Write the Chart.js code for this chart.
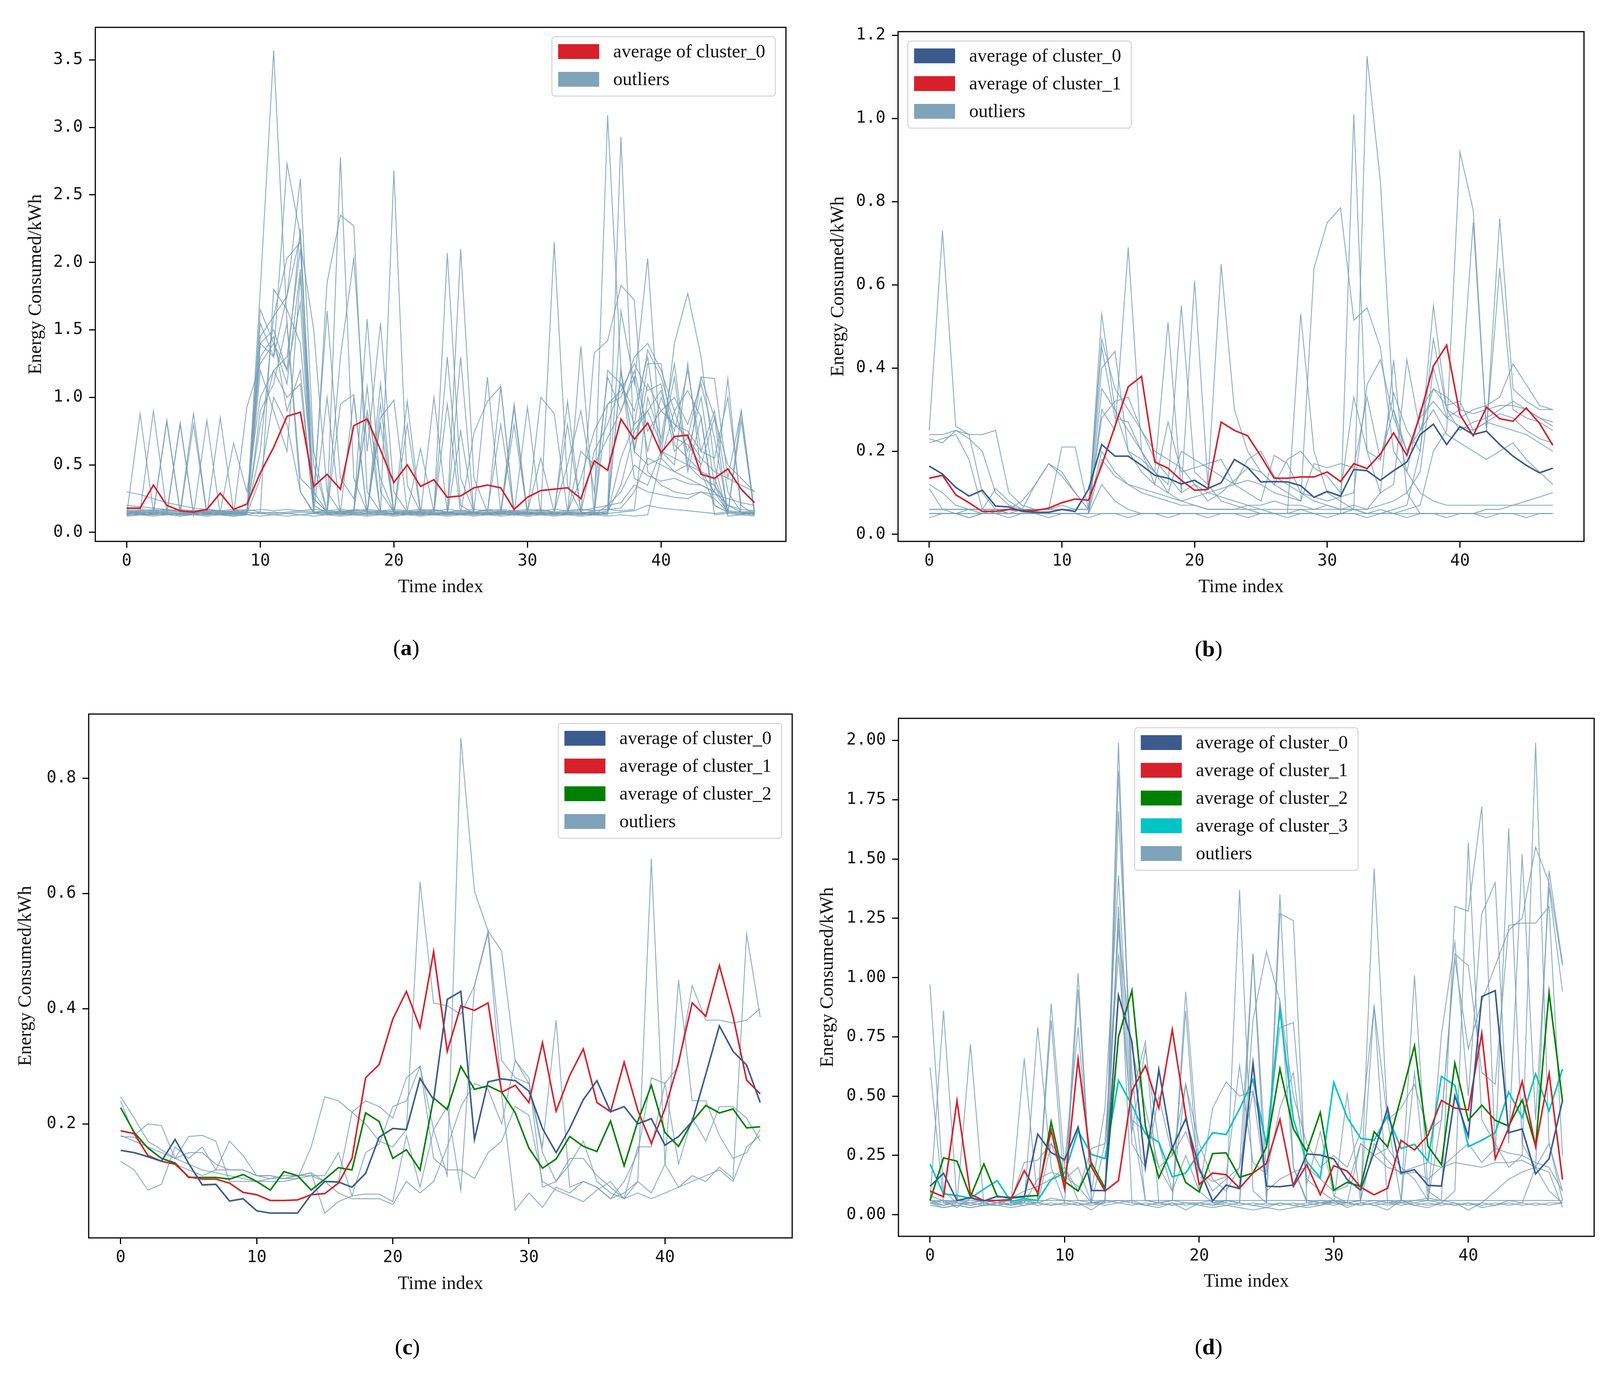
<!DOCTYPE html>
<html>
<head>
<meta charset="utf-8">
<script src="https://cdn.jsdelivr.net/npm/chart.js@4.4.1/dist/chart.umd.min.js"></script>
<style>
  html, body { margin: 0; padding: 0; background: #fff; }
  body { width: 4119px; height: 3520px; position: relative; overflow: hidden; }
  canvas { position: absolute; }
</style>
</head>
<body>
<canvas id="panelA" width="2060" height="1760" style="left:0px;top:0px;width:2060px;height:1760px"></canvas>
<canvas id="panelB" width="2059" height="1760" style="left:2060px;top:0px;width:2059px;height:1760px"></canvas>
<canvas id="panelC" width="2060" height="1760" style="left:0px;top:1760px;width:2060px;height:1760px"></canvas>
<canvas id="panelD" width="2059" height="1760" style="left:2060px;top:1760px;width:2059px;height:1760px"></canvas>
<script>
// time index 0..47 (48 half-hour slots)
const timeIndex = [...Array(48).keys()];
const xTicks = [0, 10, 20, 30, 40];

const clusterLabels = ["average of cluster_0", "average of cluster_1", "average of cluster_2", "average of cluster_3"];
const outlierLabel = "outliers";

// ---- panel (a) ----
const aTicks = [0, 0.5, 1.0, 1.5, 2.0, 2.5, 3.0, 3.5];
const aCluster0 = [
  0.18,0.18,0.35,0.20,0.16,0.15,0.17,0.29,0.17,0.21,0.44,0.63,
  0.86,0.89,0.34,0.43,0.32,0.79,0.84,0.61,0.37,0.50,0.34,0.39,
  0.26,0.27,0.33,0.35,0.33,0.17,0.26,0.31,0.32,0.33,0.25,0.53,
  0.46,0.84,0.69,0.81,0.59,0.71,0.72,0.43,0.40,0.47,0.32,0.22];
const aOutliers = [
  [0.15,0.14,0.15,0.14,0.13,0.14,0.15,0.14,0.13,0.15,1.80,3.57,
   1.55,0.30,0.15,0.14,0.16,0.15,0.14,0.15,0.14,0.15,0.14,0.13,
   0.15,0.14,0.15,0.14,0.15,0.14,0.13,0.15,0.14,0.15,0.14,0.16,
   3.09,1.20,0.40,0.35,0.60,0.55,0.50,0.45,0.20,0.15,0.14,0.15],
  [0.13,0.88,0.15,0.14,0.13,0.15,0.14,0.13,0.15,0.14,1.55,1.30,
   2.73,2.20,0.25,0.15,0.14,0.16,1.58,0.30,0.15,0.14,0.16,0.15,
   2.07,0.40,0.15,0.14,0.16,0.15,0.14,0.15,2.15,0.35,0.15,0.14,
   0.16,2.93,0.60,0.50,0.55,0.45,0.50,0.40,0.35,0.14,0.13,0.15],
  [0.30,0.28,0.25,0.22,0.20,0.18,0.17,0.16,0.15,0.15,0.60,1.60,
   1.75,2.62,0.60,0.15,2.78,0.40,0.15,0.14,2.68,0.35,0.15,0.14,
   0.15,2.10,0.40,0.15,0.14,0.15,0.14,0.15,0.14,0.15,0.14,1.33,
   1.42,1.83,1.72,0.45,0.35,0.30,0.28,0.30,0.25,0.15,0.14,0.15],
  [0.14,0.15,0.90,0.15,0.80,0.14,0.13,0.85,0.15,0.14,1.40,1.50,
   1.20,2.25,0.20,1.85,2.35,2.27,0.30,0.15,0.14,0.97,0.15,0.14,
   0.15,0.13,0.15,0.14,1.08,0.15,0.14,0.15,0.14,0.15,0.14,0.15,
   0.14,1.64,1.10,2.03,0.60,0.50,1.25,0.45,0.40,0.16,0.15,0.14],
  [0.16,0.15,0.14,0.83,0.15,0.88,0.14,0.15,0.13,0.93,1.25,1.40,
   1.10,1.95,0.25,0.15,1.30,2.03,0.60,1.55,0.30,0.15,0.14,1.00,
   0.15,0.14,0.16,1.15,0.15,0.95,0.14,0.15,0.14,0.97,0.15,0.14,
   1.20,1.10,0.80,1.35,1.15,0.80,0.70,1.15,1.14,0.40,0.90,0.15],
  [0.12,0.13,0.14,0.13,0.81,0.13,0.83,0.13,0.12,0.13,0.15,1.80,
   1.65,1.40,0.30,1.64,0.40,0.25,0.85,0.15,0.13,0.14,0.13,0.14,
   0.13,0.14,0.74,0.97,1.08,0.14,0.93,0.13,0.14,0.13,1.38,0.13,
   0.14,1.20,0.60,1.25,1.25,0.65,0.55,0.45,0.30,1.14,0.14,0.13],
  [0.18,0.17,0.16,0.15,0.14,0.15,0.14,0.15,0.66,0.30,1.00,1.20,
   1.00,1.10,0.15,0.14,0.95,1.02,0.14,0.85,0.98,0.16,0.62,0.15,
   1.30,0.20,0.14,0.15,0.80,0.14,0.15,1.00,0.88,0.15,0.40,0.75,
   0.95,1.05,1.25,1.05,1.10,0.60,0.70,0.55,0.45,0.40,0.35,0.30],
  [0.14,0.13,0.13,0.14,0.13,0.13,0.14,0.13,0.14,0.13,0.90,1.10,
   1.55,0.40,0.30,0.15,0.14,0.13,0.14,1.10,0.15,0.14,0.13,0.14,
   0.13,0.75,0.14,0.13,0.14,0.13,0.15,0.14,0.13,0.14,0.60,0.50,
   0.70,0.90,1.20,0.75,0.90,0.80,0.75,0.60,0.55,1.00,0.20,0.13],
  [0.16,0.15,0.16,0.17,0.15,0.16,0.17,0.15,0.16,0.17,0.15,0.14,
   0.15,0.16,0.15,0.16,0.15,0.17,0.16,0.15,0.16,0.15,0.16,0.17,
   0.15,0.16,0.15,0.17,0.16,0.15,0.16,0.17,0.15,0.16,0.17,0.16,
   0.17,0.18,0.30,0.55,0.50,0.45,0.40,0.35,0.30,0.20,0.17,0.16],
  [0.20,0.19,0.18,0.17,0.16,0.15,0.16,0.15,0.16,0.15,0.14,0.13,
   0.14,0.13,0.14,0.13,0.14,0.13,0.14,0.13,0.14,0.13,0.14,0.13,
   0.14,0.13,0.14,0.13,0.14,0.13,0.14,0.15,0.14,0.15,0.16,0.18,
   0.20,0.22,0.35,0.30,0.28,0.26,0.25,0.30,0.28,0.25,0.22,0.20],
  [0.13,0.14,0.13,0.14,0.13,0.80,0.13,0.14,0.13,0.14,1.20,0.90,
   0.60,1.90,0.15,0.14,0.15,1.00,0.14,0.95,0.13,0.14,0.13,0.14,
   0.95,0.14,0.13,0.14,0.13,0.92,0.13,0.14,0.13,0.14,0.13,0.14,
   0.95,1.00,1.30,1.40,1.20,0.90,1.05,0.85,0.13,0.14,0.83,0.13],
  [0.15,0.14,0.15,0.82,0.15,0.14,0.15,0.14,0.15,0.14,1.45,1.60,
   2.03,2.15,1.50,0.30,0.15,0.14,0.16,0.80,0.15,0.14,0.15,0.14,
   0.15,0.14,0.15,0.14,0.15,0.14,0.15,0.55,0.15,0.80,0.15,0.14,
   0.15,0.35,0.75,0.90,0.65,1.15,0.45,0.85,0.20,0.15,0.14,0.15],
  [0.14,0.15,0.14,0.15,0.14,0.15,0.14,0.15,0.14,0.15,0.14,0.15,
   0.14,0.15,0.14,0.15,0.14,0.15,0.14,0.15,0.14,0.15,0.14,0.15,
   0.14,0.15,0.14,0.15,0.14,0.15,0.14,0.15,0.14,0.15,0.14,0.15,
   0.14,0.15,0.16,0.20,0.18,0.17,0.16,0.15,0.14,0.15,0.14,0.15],
  [0.12,0.13,0.12,0.13,0.12,0.13,0.12,0.13,0.12,0.13,0.12,0.13,
   0.12,0.13,0.12,0.13,0.12,0.13,0.12,0.13,0.12,0.13,0.12,0.13,
   0.12,0.13,0.12,0.13,0.12,0.13,0.12,0.13,0.12,0.13,0.12,0.13,
   0.12,0.13,0.12,0.13,0.55,1.40,1.77,1.30,0.50,0.12,0.13,0.12],
  [0.17,0.16,0.17,0.16,0.17,0.16,0.17,0.16,0.17,0.16,0.17,0.16,
   0.17,0.16,0.17,0.16,0.17,0.16,0.17,0.16,0.17,0.16,0.17,0.16,
   0.17,0.16,0.17,0.16,0.17,0.16,0.17,0.16,0.17,0.16,0.17,0.16,
   0.17,0.16,0.17,1.00,0.70,1.25,0.50,1.15,0.85,0.50,0.40,0.30],
  [0.13,0.14,0.13,0.14,0.13,0.14,0.13,0.14,0.13,0.14,1.65,1.40,
   1.20,1.70,0.14,1.00,0.13,0.14,1.08,0.14,0.13,0.80,0.14,0.13,
   0.14,1.30,0.14,0.13,0.14,0.80,0.14,0.13,0.14,0.13,0.14,0.13,
   0.14,0.55,0.80,0.90,1.05,0.70,0.65,0.50,0.85,0.14,0.90,0.14],
  [0.14,0.13,0.14,0.13,0.14,0.13,0.14,0.13,0.14,0.13,1.40,1.30,
   1.75,2.20,0.20,0.14,0.13,0.14,0.13,0.14,0.13,0.14,0.13,0.14,
   0.13,0.14,0.13,0.14,0.13,0.14,0.13,0.14,0.13,0.14,0.13,0.14,
   0.13,1.20,0.60,1.10,0.90,1.00,0.80,1.10,0.70,0.15,0.14,0.13],
  [0.15,0.16,0.15,0.16,0.15,0.16,0.15,0.16,0.15,0.16,1.30,1.45,
   0.90,1.20,0.15,0.16,0.15,0.16,0.15,0.16,0.15,0.16,0.15,0.16,
   0.15,0.16,0.15,0.16,0.15,0.16,0.15,0.16,0.15,0.50,0.90,0.30,
   1.15,0.90,1.15,0.60,1.00,0.75,1.20,0.60,0.90,0.30,0.15,0.16],
  [0.13,0.14,0.13,0.14,0.13,0.14,0.13,0.14,0.13,0.14,0.40,1.00,
   0.80,0.30,0.14,0.13,0.14,0.13,0.14,0.13,0.14,0.13,0.14,0.13,
   0.14,0.13,0.14,0.13,0.14,0.13,0.14,0.13,0.14,0.13,0.14,0.13,
   0.20,0.30,0.50,0.42,0.38,0.40,0.36,0.35,0.30,0.15,0.14,0.13],
  [0.14,0.15,0.14,0.15,0.14,0.15,0.14,0.15,0.14,0.15,0.80,1.20,
   1.30,2.10,0.50,0.15,0.14,0.15,0.90,0.40,0.15,0.14,0.15,0.14,
   0.15,0.14,0.15,0.14,0.15,0.14,0.15,0.14,0.15,0.14,0.15,0.60,
   0.80,1.10,0.90,1.30,0.55,0.90,0.60,1.00,0.35,0.20,0.15,0.14]
];

// ---- panel (b) ----
const bTicks = [0, 0.2, 0.4, 0.6, 0.8, 1.0, 1.2];
const bCluster0 = [
  0.164,0.145,0.113,0.092,0.106,0.068,0.066,0.055,0.053,0.053,0.060,0.055,
  0.108,0.216,0.188,0.188,0.166,0.142,0.135,0.121,0.130,0.110,0.124,0.180,
  0.161,0.126,0.127,0.126,0.117,0.089,0.103,0.092,0.156,0.153,0.130,0.153,
  0.174,0.240,0.265,0.216,0.259,0.240,0.248,0.216,0.188,0.166,0.148,0.159];
const bCluster1 = [
  0.135,0.142,0.095,0.076,0.055,0.055,0.060,0.057,0.057,0.063,0.076,0.085,
  0.082,0.166,0.260,0.355,0.380,0.174,0.159,0.130,0.106,0.108,0.270,0.250,
  0.237,0.188,0.135,0.135,0.138,0.138,0.150,0.127,0.170,0.158,0.193,0.244,
  0.190,0.288,0.405,0.455,0.288,0.237,0.306,0.278,0.272,0.304,0.267,0.214];
const bOutliers = [
  [0.25,0.73,0.26,0.24,0.10,0.06,0.05,0.05,0.05,0.05,0.05,0.05,
   0.05,0.53,0.30,0.25,0.20,0.15,0.10,0.08,0.07,0.06,0.06,0.06,
   0.07,0.06,0.05,0.05,0.06,0.05,0.05,0.05,0.06,0.05,0.05,0.06,
   0.07,0.20,0.55,0.30,0.25,0.27,0.28,0.30,0.32,0.30,0.28,0.27],
  [0.24,0.24,0.25,0.24,0.24,0.25,0.10,0.07,0.06,0.06,0.07,0.06,
   0.06,0.47,0.35,0.30,0.25,0.20,0.18,0.16,0.12,0.10,0.09,0.08,
   0.07,0.07,0.08,0.07,0.07,0.06,0.07,0.06,0.07,0.06,0.07,0.08,
   0.10,0.15,0.40,0.28,0.30,0.29,0.30,0.31,0.31,0.30,0.28,0.26],
  [0.22,0.23,0.24,0.18,0.06,0.05,0.05,0.06,0.05,0.05,0.05,0.05,
   0.05,0.30,0.25,0.69,0.20,0.15,0.51,0.10,0.61,0.12,0.08,0.07,
   0.06,0.05,0.05,0.05,0.53,0.20,0.10,0.08,0.06,0.05,0.06,0.05,
   0.06,0.07,0.20,0.25,0.92,0.78,0.25,0.64,0.30,0.28,0.27,0.25],
  [0.12,0.10,0.07,0.06,0.06,0.11,0.08,0.06,0.12,0.17,0.14,0.10,
   0.06,0.40,0.44,0.20,0.18,0.15,0.12,0.55,0.15,0.12,0.65,0.30,
   0.20,0.15,0.12,0.10,0.08,0.64,0.75,0.785,0.515,0.545,0.45,0.20,
   0.15,0.30,0.35,0.33,0.30,0.75,0.25,0.76,0.35,0.32,0.30,0.30],
  [0.05,0.05,0.05,0.05,0.05,0.05,0.05,0.05,0.05,0.05,0.05,0.05,
   0.05,0.05,0.05,0.05,0.05,0.05,0.05,0.05,0.05,0.05,0.05,0.05,
   0.05,0.05,0.05,0.05,0.05,0.05,0.05,0.05,1.01,0.20,0.10,0.42,
   0.10,0.05,0.05,0.05,0.05,0.05,0.05,0.05,0.05,0.05,0.05,0.05],
  [0.06,0.06,0.06,0.06,0.06,0.06,0.06,0.06,0.06,0.06,0.21,0.21,
   0.06,0.20,0.15,0.12,0.10,0.09,0.08,0.07,0.07,0.06,0.06,0.06,
   0.06,0.06,0.06,0.06,0.06,0.06,0.06,0.06,0.06,1.15,0.85,0.30,
   0.15,0.10,0.08,0.07,0.07,0.07,0.07,0.07,0.07,0.07,0.07,0.07],
  [0.04,0.05,0.05,0.04,0.05,0.05,0.04,0.05,0.05,0.04,0.05,0.05,
   0.04,0.05,0.05,0.04,0.05,0.05,0.04,0.05,0.05,0.04,0.05,0.05,
   0.04,0.05,0.05,0.04,0.05,0.05,0.04,0.05,0.05,0.04,0.05,0.05,
   0.04,0.05,0.05,0.04,0.05,0.05,0.04,0.05,0.05,0.04,0.05,0.05],
  [0.11,0.06,0.05,0.06,0.05,0.05,0.06,0.08,0.12,0.17,0.15,0.10,
   0.06,0.28,0.32,0.33,0.25,0.18,0.14,0.10,0.12,0.08,0.10,0.13,
   0.16,0.15,0.12,0.18,0.20,0.16,0.14,0.10,0.33,0.20,0.18,0.34,
   0.25,0.20,0.47,0.30,0.28,0.30,0.31,0.33,0.41,0.36,0.31,0.30],
  [0.06,0.06,0.06,0.06,0.06,0.06,0.06,0.06,0.06,0.06,0.06,0.06,
   0.06,0.45,0.28,0.27,0.20,0.12,0.27,0.15,0.16,0.17,0.18,0.12,
   0.10,0.08,0.19,0.17,0.10,0.08,0.07,0.06,0.06,0.06,0.10,0.12,
   0.42,0.25,0.35,0.31,0.32,0.25,0.27,0.29,0.28,0.25,0.23,0.22],
  [0.05,0.05,0.05,0.05,0.05,0.05,0.05,0.05,0.05,0.05,0.05,0.05,
   0.05,0.12,0.08,0.06,0.05,0.05,0.05,0.05,0.05,0.05,0.05,0.05,
   0.05,0.05,0.05,0.05,0.05,0.05,0.05,0.05,0.05,0.05,0.05,0.05,
   0.05,0.05,0.05,0.05,0.05,0.05,0.06,0.06,0.07,0.08,0.09,0.10],
  [0.23,0.22,0.25,0.23,0.20,0.10,0.07,0.06,0.05,0.05,0.05,0.05,
   0.05,0.35,0.30,0.20,0.15,0.12,0.10,0.20,0.18,0.16,0.14,0.12,
   0.18,0.20,0.14,0.12,0.10,0.09,0.08,0.09,0.10,0.36,0.42,0.28,
   0.20,0.25,0.30,0.24,0.22,0.20,0.18,0.20,0.22,0.18,0.15,0.12],
  [0.05,0.05,0.05,0.04,0.05,0.06,0.05,0.05,0.05,0.05,0.05,0.05,
   0.05,0.18,0.14,0.12,0.11,0.10,0.09,0.08,0.09,0.10,0.11,0.12,
   0.13,0.12,0.10,0.09,0.08,0.17,0.16,0.17,0.16,0.33,0.18,0.30,
   0.20,0.28,0.32,0.28,0.26,0.25,0.27,0.26,0.25,0.24,0.22,0.20]
];

// ---- panel (c) ----
const cTicks = [0.2, 0.4, 0.6, 0.8];
const cCluster0 = [
  0.154,0.150,0.143,0.135,0.173,0.131,0.094,0.095,0.066,0.070,0.049,0.045,
  0.045,0.045,0.077,0.100,0.099,0.090,0.114,0.177,0.192,0.190,0.279,0.242,
  0.416,0.430,0.173,0.273,0.278,0.275,0.257,0.192,0.150,0.192,0.242,0.275,
  0.221,0.230,0.200,0.209,0.163,0.178,0.204,0.286,0.370,0.326,0.302,0.237];
const cCluster1 = [
  0.188,0.183,0.145,0.135,0.130,0.108,0.104,0.104,0.097,0.081,0.077,0.067,
  0.067,0.068,0.077,0.079,0.097,0.140,0.280,0.303,0.382,0.430,0.367,0.499,
  0.326,0.405,0.397,0.410,0.255,0.267,0.237,0.341,0.222,0.284,0.330,0.237,
  0.221,0.307,0.224,0.166,0.226,0.307,0.410,0.387,0.475,0.387,0.276,0.252];
const cCluster2 = [
  0.228,0.185,0.158,0.140,0.132,0.107,0.107,0.107,0.104,0.112,0.100,0.085,
  0.117,0.110,0.085,0.104,0.124,0.120,0.219,0.204,0.140,0.155,0.120,0.245,
  0.225,0.300,0.260,0.266,0.255,0.219,0.158,0.123,0.139,0.178,0.161,0.152,
  0.205,0.127,0.204,0.267,0.185,0.161,0.204,0.232,0.219,0.226,0.193,0.195];
const cOutliers = [
  [0.247,0.21,0.17,0.155,0.14,0.13,0.12,0.115,0.11,0.105,0.10,0.10,
   0.10,0.105,0.16,0.247,0.24,0.22,0.20,0.17,0.16,0.19,0.62,0.41,
   0.405,0.39,0.44,0.535,0.31,0.28,0.27,0.16,0.38,0.09,0.10,0.09,
   0.07,0.10,0.15,0.28,0.27,0.30,0.44,0.38,0.38,0.375,0.38,0.40],
  [0.178,0.177,0.16,0.15,0.14,0.178,0.18,0.17,0.10,0.10,0.10,0.105,
   0.11,0.11,0.115,0.045,0.065,0.075,0.078,0.078,0.065,0.18,0.09,0.19,
   0.11,0.87,0.604,0.535,0.50,0.31,0.27,0.15,0.10,0.13,0.17,0.10,
   0.08,0.07,0.10,0.66,0.13,0.09,0.11,0.10,0.125,0.105,0.53,0.385],
  [0.135,0.12,0.085,0.095,0.16,0.14,0.16,0.12,0.17,0.145,0.11,0.105,
   0.105,0.105,0.11,0.11,0.15,0.075,0.15,0.165,0.23,0.24,0.30,0.19,
   0.23,0.085,0.44,0.53,0.25,0.05,0.08,0.055,0.09,0.08,0.10,0.09,
   0.07,0.08,0.10,0.08,0.13,0.45,0.24,0.24,0.18,0.14,0.15,0.19],
  [0.24,0.18,0.20,0.197,0.14,0.15,0.15,0.13,0.12,0.12,0.11,0.11,
   0.105,0.11,0.115,0.10,0.10,0.22,0.24,0.23,0.21,0.28,0.30,0.14,
   0.12,0.12,0.105,0.15,0.17,0.23,0.215,0.10,0.085,0.075,0.065,0.085,
   0.10,0.07,0.16,0.16,0.27,0.13,0.21,0.17,0.23,0.23,0.21,0.17],
  [0.18,0.17,0.16,0.14,0.13,0.12,0.11,0.12,0.12,0.12,0.11,0.11,
   0.105,0.11,0.11,0.10,0.08,0.07,0.07,0.07,0.06,0.10,0.08,0.10,
   0.16,0.23,0.27,0.26,0.20,0.31,0.28,0.09,0.10,0.14,0.14,0.11,
   0.09,0.07,0.08,0.07,0.08,0.09,0.10,0.11,0.12,0.10,0.16,0.18]
];

// ---- panel (d) ----
const dTicks = [0, 0.25, 0.5, 0.75, 1.0, 1.25, 1.5, 1.75, 2.0];
const dCluster0 = [
  0.120,0.175,0.060,0.072,0.058,0.078,0.070,0.075,0.340,0.262,0.232,0.370,
  0.102,0.102,0.925,0.730,0.200,0.612,0.280,0.405,0.195,0.058,0.125,0.110,
  0.638,0.120,0.118,0.125,0.256,0.252,0.235,0.148,0.104,0.265,0.450,0.176,
  0.190,0.124,0.121,0.502,0.330,0.920,0.945,0.346,0.362,0.172,0.236,0.482];
const dCluster1 = [
  0.100,0.076,0.480,0.086,0.060,0.060,0.064,0.186,0.092,0.356,0.108,0.656,
  0.200,0.100,0.144,0.522,0.628,0.450,0.780,0.418,0.128,0.176,0.169,0.112,
  0.176,0.216,0.402,0.120,0.211,0.084,0.207,0.184,0.116,0.084,0.112,0.314,
  0.273,0.334,0.482,0.450,0.442,0.765,0.236,0.366,0.562,0.287,0.596,0.148];
const dCluster2 = [
  0.060,0.240,0.226,0.076,0.214,0.076,0.073,0.078,0.081,0.392,0.140,0.100,
  0.218,0.112,0.750,0.945,0.374,0.156,0.282,0.136,0.096,0.258,0.261,0.158,
  0.176,0.286,0.615,0.362,0.266,0.432,0.104,0.137,0.120,0.350,0.286,0.495,
  0.713,0.290,0.211,0.639,0.398,0.462,0.398,0.374,0.484,0.290,0.937,0.478];
const dCluster3 = [
  0.214,0.088,0.081,0.070,0.108,0.144,0.056,0.068,0.060,0.148,0.176,0.354,
  0.254,0.237,0.566,0.462,0.342,0.306,0.160,0.176,0.262,0.346,0.338,0.446,
  0.570,0.296,0.863,0.402,0.223,0.156,0.558,0.410,0.322,0.314,0.418,0.279,
  0.297,0.227,0.583,0.546,0.287,0.314,0.346,0.518,0.410,0.594,0.438,0.614];
const dOutliers = [
  [0.97,0.10,0.05,0.04,0.05,0.04,0.05,0.06,0.05,0.89,0.20,0.06,
   0.05,0.05,1.99,0.40,0.06,0.05,0.06,0.05,0.05,0.06,0.05,1.37,
   0.10,0.05,1.35,0.20,0.05,0.06,0.05,0.05,0.06,1.46,0.40,0.06,
   0.05,0.06,0.05,0.10,1.57,0.40,0.30,0.20,0.25,1.99,0.30,0.06],
  [0.62,0.05,0.04,0.05,0.04,0.05,0.04,0.66,0.05,0.82,0.10,1.02,
   0.05,0.06,1.87,0.50,0.73,0.05,0.06,0.94,0.20,0.05,0.06,0.05,
   1.10,0.05,1.27,1.24,0.06,0.05,0.06,0.05,0.06,0.88,0.05,0.06,
   1.01,0.10,0.06,1.30,1.28,1.72,0.25,1.63,0.30,0.20,1.45,1.06],
  [0.06,0.86,0.05,0.72,0.04,0.05,0.04,0.05,0.79,0.20,0.05,0.95,
   0.05,0.06,1.70,0.60,0.06,0.05,0.06,0.86,0.10,0.05,0.06,0.05,
   0.82,1.11,0.90,0.20,0.06,0.05,0.05,0.51,0.05,0.06,0.05,0.05,
   0.60,0.06,0.76,1.15,0.50,1.27,1.40,0.30,1.52,0.40,1.38,0.94],
  [0.05,0.04,0.06,0.05,0.06,0.05,0.06,0.22,0.23,0.30,0.22,0.79,
   0.10,0.45,1.43,0.40,0.35,0.20,0.10,0.25,0.10,0.45,0.56,0.50,
   0.52,0.30,0.79,0.81,0.15,0.10,0.06,0.05,0.30,0.25,0.28,0.20,
   0.15,0.06,0.40,1.10,1.05,0.60,0.55,1.22,1.23,1.23,1.30,0.25],
  [0.05,0.03,0.04,0.03,0.04,0.04,0.03,0.04,0.05,0.04,0.05,0.04,
   0.05,0.06,1.25,0.05,0.04,0.05,0.04,0.05,0.04,0.05,0.04,0.05,
   0.04,0.05,0.04,0.05,0.04,0.05,0.04,0.05,0.04,0.05,0.04,0.05,
   0.04,0.05,0.04,0.05,0.04,0.05,0.04,0.05,0.04,0.05,0.04,0.05],
  [0.06,0.06,0.06,0.06,0.06,0.06,0.06,0.06,0.06,0.06,0.06,0.06,
   0.06,0.06,0.06,0.06,0.06,0.06,0.06,0.06,0.06,0.06,0.06,0.06,
   0.06,0.06,0.06,0.06,0.06,0.06,0.06,0.06,0.06,0.06,0.06,0.06,
   0.06,0.06,0.06,0.06,0.06,0.06,0.06,0.06,0.06,0.06,0.06,0.06],
  [0.08,0.06,0.05,0.05,0.06,0.05,0.07,0.10,0.12,0.15,0.20,0.10,
   0.28,0.30,1.20,0.70,0.45,0.20,0.25,0.55,0.30,0.15,0.10,0.20,
   0.52,0.10,0.15,0.18,0.20,0.15,0.10,0.12,0.30,0.25,0.20,0.18,
   0.20,0.22,0.20,0.25,0.30,0.22,0.28,0.26,0.25,0.22,0.20,0.10],
  [0.04,0.03,0.04,0.03,0.04,0.05,0.04,0.05,0.04,0.05,0.04,0.05,
   0.04,0.05,0.06,0.05,0.04,0.05,0.04,0.05,0.04,0.03,0.04,0.03,
   0.02,0.03,0.02,0.03,0.04,0.05,0.06,0.05,0.04,0.05,0.06,0.05,
   0.06,0.07,0.06,0.05,0.02,0.05,0.10,0.15,0.18,0.20,0.10,0.05],
  [0.06,0.05,0.06,0.05,0.06,0.05,0.06,0.05,0.15,0.18,0.16,0.12,
   0.05,0.05,1.30,0.30,0.20,0.50,0.25,0.35,0.18,0.14,0.16,0.63,
   0.22,0.17,0.45,0.60,0.13,0.35,0.08,0.05,0.06,0.30,0.23,0.17,
   0.18,0.15,0.20,0.22,0.21,0.20,0.22,0.22,0.23,0.20,0.18,0.03],
  [0.05,0.04,0.05,0.04,0.05,0.04,0.05,0.05,0.05,0.30,0.15,0.20,
   0.05,0.30,1.10,0.35,0.70,0.30,0.10,0.55,0.20,0.10,0.15,0.20,
   1.10,0.18,0.90,0.50,0.30,0.20,0.25,0.20,0.35,0.88,0.40,0.45,
   0.55,0.35,0.40,1.08,0.70,0.90,1.05,1.20,1.25,1.55,1.40,1.05],
  [0.06,0.04,0.05,0.04,0.05,0.04,0.05,0.04,0.05,0.04,0.05,0.04,
   0.05,0.04,0.05,0.04,0.05,0.04,0.05,0.04,0.05,0.04,0.05,0.04,
   0.05,0.04,0.05,0.04,0.05,0.04,0.05,0.04,0.05,0.04,0.05,0.04,
   0.05,0.04,0.05,0.04,0.05,0.04,0.05,0.04,0.05,0.04,0.05,0.05],
  [0.05,0.06,0.03,0.07,0.05,0.06,0.04,0.06,0.05,0.07,0.06,0.05,
   0.02,0.06,0.05,0.06,0.04,0.03,0.05,0.02,0.05,0.04,0.06,0.05,
   0.04,0.03,0.05,0.04,0.03,0.04,0.06,0.03,0.05,0.04,0.02,0.06,
   0.04,0.03,0.05,0.04,0.05,0.03,0.04,0.06,0.05,0.20,0.30,0.10]
];

// colours
const BLUE = "#3b5b8e";
const RED = "#d7202a";
const GREEN = "#008000";
const CYAN = "#00c4c4";
const OUTLIER_PATCH = "#7fa3b8";
const OUTLIER_LINE = "rgba(118,158,181,0.82)";

const serif = '"Liberation Serif", "Times New Roman", serif';
const mono = '"DejaVu Sans Mono", monospace';

// frame, legend box and panel caption drawn on top of the plot
const panelDecor = {
  id: "panelDecor",
  afterDraw(chart, args, opts) {
    const { ctx, chartArea: ca } = chart;
    ctx.save();
    ctx.strokeStyle = "#000";
    ctx.lineWidth = 3;
    ctx.strokeRect(ca.left, ca.top, ca.right - ca.left, ca.bottom - ca.top);

    ctx.font = "48px " + serif;
    const textW = Math.max(...opts.items.map(it => ctx.measureText(it.text).width));
    const boxW = 157 + textW + 26;
    const boxH = opts.items.length * 71 + 10;
    let bx;
    if (opts.loc === "right") bx = ca.right - 27 - boxW;
    else if (opts.loc === "left") bx = ca.left + 25;
    else bx = (ca.left + ca.right) / 2 - boxW / 2;
    const by = ca.top + 24;
    ctx.beginPath();
    ctx.roundRect(bx, by, boxW, boxH, 8);
    ctx.fillStyle = "rgba(255,255,255,0.85)";
    ctx.fill();
    ctx.strokeStyle = "#d2d2d2";
    ctx.lineWidth = 2.5;
    ctx.stroke();
    ctx.textAlign = "left";
    ctx.textBaseline = "middle";
    opts.items.forEach((it, i) => {
      const cy = by + 38 + i * 71;
      ctx.fillStyle = it.color;
      ctx.fillRect(bx + 16, cy - 19, 105, 38);
      ctx.fillStyle = "#111";
      ctx.fillText(it.text, bx + 157, cy + 2);
    });

    // caption like "(a)" with bold letter
    const parts = [["(", "58px " + serif], [opts.caption, "bold 58px " + serif], [")", "58px " + serif]];
    let total = 0;
    parts.forEach(p => { ctx.font = p[1]; total += ctx.measureText(p[0]).width; });
    let cx = opts.capX - total / 2;
    ctx.fillStyle = "#000";
    parts.forEach(p => {
      ctx.font = p[1];
      ctx.fillText(p[0], cx, opts.capY);
      cx += ctx.measureText(p[0]).width;
    });
    ctx.restore();
  }
};

function toPoints(vals) {
  return vals.map((v, i) => ({ x: timeIndex[i], y: v }));
}

function buildPanel(canvasId, averages, avgColors, outliers, yTicks, yDecimals, lay) {
  const datasets = [];
  averages.forEach((vals, k) => datasets.push({
    label: clusterLabels[k], data: toPoints(vals),
    borderColor: avgColors[k], borderWidth: 4, pointRadius: 0, tension: 0
  }));
  outliers.forEach(vals => datasets.push({
    label: outlierLabel, data: toPoints(vals),
    borderColor: OUTLIER_LINE, borderWidth: 2.4, pointRadius: 0, tension: 0
  }));

  const legendItems = averages.map((_, k) => ({ text: clusterLabels[k], color: avgColors[k] }));
  legendItems.push({ text: outlierLabel, color: OUTLIER_PATCH });

  const canvas = document.getElementById(canvasId);
  const W = canvas.width, H = canvas.height;
  const titleHalf = 48 * 1.2 / 2;
  const xAxisH = lay.xTitleY - lay.B + titleHalf;

  new Chart(canvas, {
    type: "line",
    data: { datasets },
    options: {
      responsive: false,
      devicePixelRatio: 1,
      animation: false,
      events: [],
      layout: { padding: { left: 0, top: lay.T, right: W - lay.R, bottom: H - lay.B - xAxisH } },
      plugins: {
        legend: { display: false },
        tooltip: { enabled: false },
        panelDecor: { items: legendItems, loc: lay.legendLoc, caption: lay.caption, capX: lay.capX, capY: lay.capY }
      },
      scales: {
        x: {
          type: "linear",
          min: -2.35, max: 49.35,
          afterBuildTicks: s => { s.ticks = xTicks.map(v => ({ value: v })); },
          afterFit: s => { s.height = xAxisH; },
          grid: { display: true, drawOnChartArea: false, drawTicks: true, tickLength: 16, color: "#000", lineWidth: 3 },
          border: { display: false },
          ticks: { autoSkip: false, maxRotation: 0, padding: 10, color: "#111", font: { family: mono, size: 42 } },
          title: { display: true, text: "Time index", color: "#111", padding: { top: 0, bottom: 0 }, font: { family: serif, size: 48, lineHeight: 1.2 } }
        },
        y: {
          type: "linear",
          min: lay.yMin, max: lay.yMax,
          afterBuildTicks: s => { s.ticks = yTicks.map(v => ({ value: v })); },
          afterFit: s => { s.width = lay.L; },
          grid: { display: true, drawOnChartArea: false, drawTicks: true, tickLength: 16, color: "#000", lineWidth: 3 },
          border: { display: false },
          ticks: { autoSkip: false, padding: 16, color: "#111", font: { family: mono, size: 42 },
                   callback: v => Number(v).toFixed(yDecimals) },
          title: { display: true, text: "Energy Consumed/kWh", color: "#111", padding: { top: lay.yTitleX - titleHalf, bottom: 0 }, font: { family: serif, size: 48, lineHeight: 1.2 } }
        }
      }
    },
    plugins: [panelDecor]
  });
}

buildPanel("panelA", [aCluster0], [RED], aOutliers, aTicks, 1,
  { L: 244, R: 2012, T: 70, B: 1386, yMin: -0.067, yMax: 3.741, yTitleX: 92, xTitleY: 1503,
    legendLoc: "right", caption: "a", capX: 1040, capY: 1662 });
buildPanel("panelB", [bCluster0, bCluster1], [BLUE, RED], bOutliers, bTicks, 1,
  { L: 239, R: 1995, T: 81, B: 1386, yMin: -0.017, yMax: 1.209, yTitleX: 86, xTitleY: 1503,
    legendLoc: "left", caption: "b", capX: 1034, capY: 1665 });
buildPanel("panelC", [cCluster0, cCluster1, cCluster2], [BLUE, RED, GREEN], cOutliers, cTicks, 1,
  { L: 227, R: 2028, T: 68, B: 1409, yMin: 0.002, yMax: 0.9115, yTitleX: 66, xTitleY: 1527,
    legendLoc: "right", caption: "c", capX: 1043, capY: 1692 });
buildPanel("panelD", [dCluster0, dCluster1, dCluster2, dCluster3], [BLUE, RED, GREEN, CYAN], dOutliers, dTicks, 2,
  { L: 240, R: 2021, T: 79, B: 1405, yMin: -0.091, yMax: 2.093, yTitleX: 59, xTitleY: 1521,
    legendLoc: "center", caption: "d", capX: 1034, capY: 1692 });
</script>
</body>
</html>
